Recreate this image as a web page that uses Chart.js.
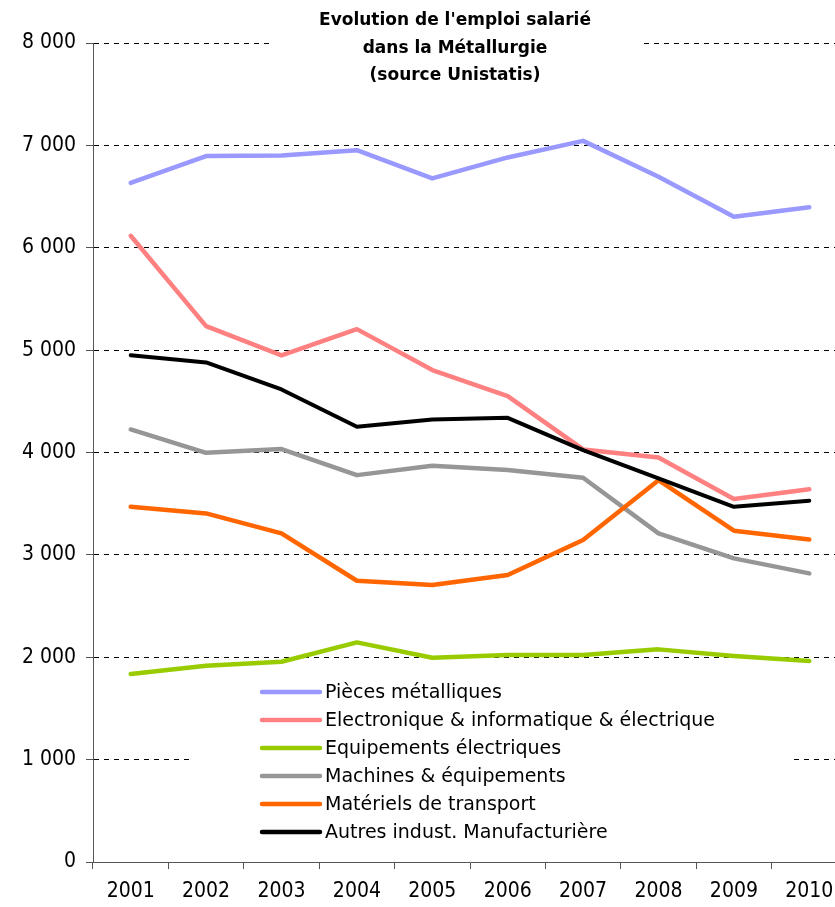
<!DOCTYPE html>
<html>
<head>
<meta charset="utf-8">
<script src="https://cdn.jsdelivr.net/npm/chart.js@4/dist/chart.umd.min.js"></script>
<style>
  html, body { margin: 0; padding: 0; background: #fff; overflow: hidden; }
  #wrap { width: 850px; height: 907px; }
</style>
</head>
<body>
<div id="wrap"><canvas id="emploiChart" width="850" height="907"></canvas></div>
<script>
// Evolution de l'emploi salarié dans la Métallurgie (source Unistatis)
const annees = ['2001', '2002', '2003', '2004', '2005', '2006', '2007', '2008', '2009', '2010'];

const piecesMetalliques = [6634, 6895, 6901, 6953, 6677, 6882, 7044, 6693, 6302, 6396];
const electronique      = [6117, 5234, 4948, 5205, 4805, 4551, 4030, 3952, 3545, 3640];
const equipElectriques  = [1836, 1917, 1956, 2145, 1995, 2021, 2021, 2077, 2012, 1963];
const machines          = [4225, 3997, 4033, 3779, 3870, 3828, 3753, 3210, 2966, 2819];
const transport         = [3470, 3405, 3210, 2747, 2705, 2803, 3145, 3730, 3236, 3151];
const autresIndust      = [4951, 4880, 4616, 4251, 4323, 4339, 4023, 3747, 3470, 3529];

const titre = ["Evolution de l'emploi salarié", 'dans la Métallurgie', '(source Unistatis)'];
const yTicks = [0, 1000, 2000, 3000, 4000, 5000, 6000, 7000, 8000];

const policeAxes = "'DejaVu Sans Condensed', 'Liberation Sans Narrow', 'DejaVu Sans', sans-serif";
const policeTexte = "'DejaVu Sans', 'Verdana', sans-serif";

function formatMilliers(v) {
    return v.toString().replace(/\B(?=(\d{3})+(?!\d))/g, ' ');
}

function serie(label, data, couleur, largeur) {
    return {
        label: label,
        data: data,
        borderColor: couleur,
        backgroundColor: couleur,
        borderWidth: largeur,
        pointRadius: 0,
        pointHoverRadius: 0,
        tension: 0,
        fill: false,
        borderJoinStyle: 'round',
        borderCapStyle: 'round'
    };
}

const datasets = [
    serie('Pièces métalliques', piecesMetalliques, '#9999FF', 4.5),
    serie('Electronique & informatique & électrique', electronique, '#FF8080', 4.5),
    serie('Equipements électriques', equipElectriques, '#99CC00', 4.5),
    serie('Machines & équipements', machines, '#969696', 4.5),
    serie('Matériels de transport', transport, '#FF6600', 4.5),
    serie('Autres indust. Manufacturière', autresIndust, '#000000', 4)
];
// comme Excel : la dernière série est dessinée au-dessus
datasets.forEach((d, i) => { d.order = datasets.length - i; });

// titre et légende posés sur la zone de tracé, avec un fond blanc
const decorPlugin = {
    id: 'decor',
    beforeDatasetsDraw(chart) {
        const ctx = chart.ctx;
        ctx.save();

        // titre
        ctx.fillStyle = '#fff';
        ctx.fillRect(272, 0, 369, 92);
        ctx.fillStyle = '#000';
        ctx.font = 'bold 17px ' + policeTexte;
        ctx.textAlign = 'center';
        ctx.textBaseline = 'middle';
        titre.forEach((ligne, i) => {
            ctx.fillText(ligne, 455, 21 + i * 27.5);
        });

        // légende
        ctx.fillStyle = '#fff';
        ctx.fillRect(193, 668, 597, 180);
        ctx.font = '19px ' + policeTexte;
        ctx.textAlign = 'left';
        chart.data.datasets.forEach((ds, i) => {
            const y = 692 + i * 28;
            ctx.strokeStyle = ds.borderColor;
            ctx.lineWidth = 4.5;
            ctx.lineCap = 'round';
            ctx.beginPath();
            ctx.moveTo(262, y);
            ctx.lineTo(320, y);
            ctx.stroke();
            ctx.fillStyle = '#000';
            ctx.fillText(ds.label, 325, y + 1);
        });
        ctx.restore();
    }
};

const ctx = document.getElementById('emploiChart');
const chart = new Chart(ctx.getContext('2d'), {
    type: 'line',
    data: {
        labels: annees,
        datasets: datasets
    },
    options: {
        responsive: false,
        animation: false,
        devicePixelRatio: 1,
        layout: {
            padding: { top: 43, right: 3, left: 0, bottom: 0 }
        },
        plugins: {
            legend: { display: false },
            title: { display: false },
            tooltip: { enabled: false }
        },
        scales: {
            x: {
                offset: true,
                grid: {
                    offset: true,
                    drawOnChartArea: false,
                    drawTicks: true,
                    tickLength: 7,
                    tickColor: '#555'
                },
                border: { display: true, color: '#555', width: 1 },
                ticks: {
                    color: '#000',
                    padding: 10,
                    maxRotation: 0,
                    autoSkip: false,
                    font: { size: 21, family: policeAxes }
                },
                afterFit(scale) { scale.height = 45; }
            },
            y: {
                min: 0,
                max: 8000,
                afterBuildTicks(scale) {
                    scale.ticks = yTicks.map(v => ({ value: v }));
                },
                grid: {
                    color: '#000',
                    lineWidth: 1,
                    drawTicks: true,
                    tickLength: 7,
                    tickColor: '#555',
                    tickBorderDash: []
                },
                border: { display: true, color: '#555', width: 1, dash: [5, 5] },
                ticks: {
                    color: '#000',
                    padding: 10,
                    font: { size: 21, family: policeAxes },
                    callback: function(value) {
                        return formatMilliers(value);
                    }
                },
                afterFit(scale) { scale.width = 93; }
            }
        }
    },
    plugins: [decorPlugin]
});
</script>
</body>
</html>
